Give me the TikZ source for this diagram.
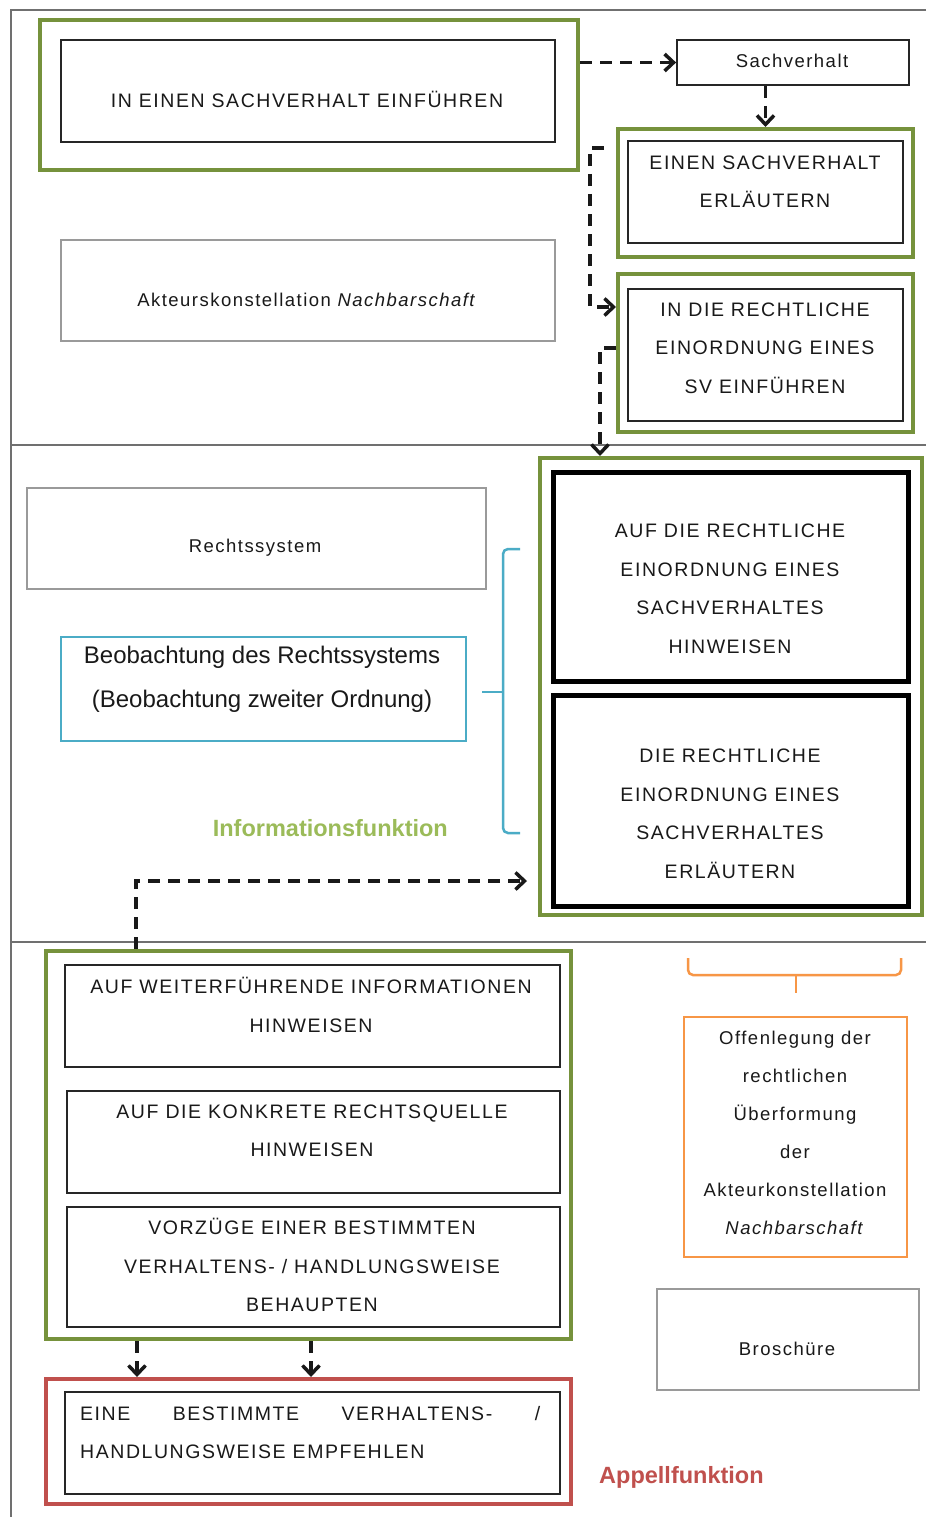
\documentclass[tikz,border=0pt]{standalone}
\usepackage{fontspec}
\setmainfont{Liberation Sans}
\newfontfamily\spacedfont[LetterSpace=8]{Liberation Sans}
\usetikzlibrary{arrows.meta,positioning,fit,calc}

\definecolor{olivegreen}{HTML}{76923C}
\definecolor{lightgreen}{HTML}{9BBB59}
\definecolor{aqua}{HTML}{4BACC6}
\definecolor{tangerine}{HTML}{F79646}
\definecolor{brick}{HTML}{C0504D}
\definecolor{framegray}{HTML}{707070}
\definecolor{boxgray}{HTML}{9A9A9A}

\tikzset{
  greenbox/.style={draw=olivegreen,line width=4pt,inner sep=0pt},
  redbox/.style={draw=brick,line width=4pt,inner sep=0pt},
  blackbox/.style={draw=black!85,line width=1.8pt,inner sep=0pt},
  heavybox/.style={draw=black,line width=5pt,inner sep=0pt},
  graybox/.style={draw=boxgray,line width=1.5pt,inner sep=0pt},
  aquabox/.style={draw=aqua,line width=1.5pt,inner sep=0pt},
  orangebox/.style={draw=tangerine,line width=1.5pt,inner sep=0pt},
  capslabel/.style={font=\spacedfont\fontsize{19.5}{38.5}\selectfont,align=center,inner sep=0pt,text=black!90},
  smalllabel/.style={font=\spacedfont\fontsize{18.5}{38}\selectfont,align=center,inner sep=0pt,text=black!90},
  obslabel/.style={font=\fontsize{24}{44}\selectfont,align=center,inner sep=0pt,text=black!90},
  funclabel/.style={font=\bfseries\fontsize{23.5}{28}\selectfont,inner sep=0pt},
  dasharrow/.style={draw=black!90,line width=3.5pt,dash pattern=on 12pt off 8pt,
    -{Straight Barb[length=9pt,width=17pt]}},
  frame/.style={draw=framegray,line width=1.5pt}
}

\begin{document}
\begin{tikzpicture}[x=1pt,y=-1pt]
  \useasboundingbox (0,0) rectangle (926,1517);
  \fill[white] (0,0) rectangle (926,1517);

  % frame and bands
  \draw[frame] (926,10) -- (11,10) -- (11,1517);
  \draw[frame] (11,445) -- (926,445);
  \draw[frame] (11,942) -- (926,942);

  % top band
  \node[greenbox,fit={(40,20) (578,170)}] (g1) {};
  \node[blackbox,fit={(61,40) (555,142)}] (einfuehren) {};
  \node[capslabel] (einfuehren-text) at (307,99) {IN EINEN SACHVERHALT EINFÜHREN};

  \node[blackbox,fit={(677,40) (909,85)}] (sv) {};
  \node[smalllabel] (sv-text) at (792,61) {Sachverhalt};

  \node[greenbox,fit={(618,129) (913,257)}] (g2) {};
  \node[blackbox,fit={(628,141) (903,243)}] (erlaeutern) {};
  \node[capslabel] (erlaeutern-text) at (765,182) {EINEN SACHVERHALT\\ERLÄUTERN};

  \node[greenbox,fit={(618,274) (913,432)}] (g3) {};
  \node[blackbox,fit={(628,289) (903,421)}] (einordnung) {};
  \node[capslabel] (einordnung-text) at (765,348) {IN DIE RECHTLICHE\\EINORDNUNG EINES\\SV EINFÜHREN};

  \node[graybox,fit={(61,240) (555,341)}] (akteur) {};
  \node[smalllabel] (akteur-text) at (307,300) {Akteurskonstellation \textit{Nachbarschaft}};

  % middle band
  \node[graybox,fit={(27,488) (486,589)}] (recht) {};
  \node[smalllabel] (recht-text) at (255,548) {Rechtssystem};

  \node[aquabox,fit={(61,637) (466,741)}] (beob) {};
  \node[obslabel] (beob-text) at (262,679) {Beobachtung des Rechtssystems\\(Beobachtung zweiter Ordnung)};

  \draw[aqua,line width=2.5pt,rounded corners=5pt] (520,549) -- (503,549) -- (503,833) -- (520,833);
  \draw[aqua,line width=2.5pt,rounded corners=5pt] (482,692) -- (503,692);

  \node[funclabel,text=lightgreen,anchor=east] (info) at (448,828) {Informationsfunktion};

  \node[greenbox,fit={(540,458) (922,915)}] (g4) {};
  \node[heavybox,fit={(553,472) (908,681)}] (hinweisen) {};
  \node[capslabel] (hinweisen-text) at (730,589) {AUF DIE RECHTLICHE\\EINORDNUNG EINES\\SACHVERHALTES\\HINWEISEN};
  \node[heavybox,fit={(553,695) (908,906)}] (sv-erlaeutern) {};
  \node[capslabel] (sv-erlaeutern-text) at (730,814) {DIE RECHTLICHE\\EINORDNUNG EINES\\SACHVERHALTES\\ERLÄUTERN};

  % bottom band
  \node[greenbox,fit={(46,951) (571,1339)}] (g5) {};
  \node[blackbox,fit={(65,965) (560,1067)}] (weiter) {};
  \node[capslabel] (weiter-text) at (311,1005) {AUF WEITERFÜHRENDE INFORMATIONEN\\HINWEISEN};
  \node[blackbox,fit={(67,1091) (560,1193)}] (quelle) {};
  \node[capslabel] (quelle-text) at (312,1131) {AUF DIE KONKRETE RECHTSQUELLE\\HINWEISEN};
  \node[blackbox,fit={(67,1207) (560,1327)}] (vorzuege) {};
  \node[capslabel] (vorzuege-text) at (312,1265) {VORZÜGE EINER BESTIMMTEN\\VERHALTENS- / HANDLUNGSWEISE\\BEHAUPTEN};

  \node[redbox,fit={(46,1379) (571,1504)}] (appell) {};
  \node[blackbox,fit={(65,1392) (560,1494)}] (empfehlen) {};
  \node[capslabel,align=left,anchor=north west] (empfehlen-text) at (80,1406)
    {\makebox[460pt][s]{EINE BESTIMMTE VERHALTENS- /}\\HANDLUNGSWEISE EMPFEHLEN};

  \draw[tangerine,line width=2.5pt,rounded corners=5pt] (688,958) -- (688,975) -- (901,975) -- (901,958);
  \draw[tangerine,line width=2.5pt] (796,975) -- (796,993);

  \node[orangebox,fit={(684,1017) (907,1257)}] (offen) {};
  \node[smalllabel] (offen-text) at (795,1133) {Offenlegung der\\rechtlichen\\Überformung\\der\\Akteurkonstellation\\\textit{Nachbarschaft}};

  \node[graybox,fit={(657,1289) (919,1390)}] (brosch) {};
  \node[smalllabel] (brosch-text) at (787,1349) {Broschüre};

  \node[funclabel,text=brick,anchor=west] (appell-text) at (599,1477) {Appellfunktion};

  % connectors
  \draw[dasharrow] (g1.east |- sv.west) -- (sv.west);
  \draw[dasharrow] (g2.north |- sv.south) -- (g2.north);
  \draw[dasharrow] ($(g2.north west)+(-12,21)$) -- ++(-14,0) |- ($(g3.north west)+(0,35)$);
  \draw[dasharrow] ($(g3.west)+(0,-5)$) -- ++(-16,0) coordinate (a4corner) -- (a4corner |- g4.north);
  \coordinate (a5end) at (527,881);
  \draw[dasharrow] ([xshift=92pt]g5.north west) |- (a5end);
  \draw[dasharrow] ([xshift=93pt]g5.south west) -- ([xshift=93pt]appell.north west);
  \draw[dasharrow] ([xshift=267pt]g5.south west) -- ([xshift=267pt]appell.north west);
\end{tikzpicture}
\end{document}
